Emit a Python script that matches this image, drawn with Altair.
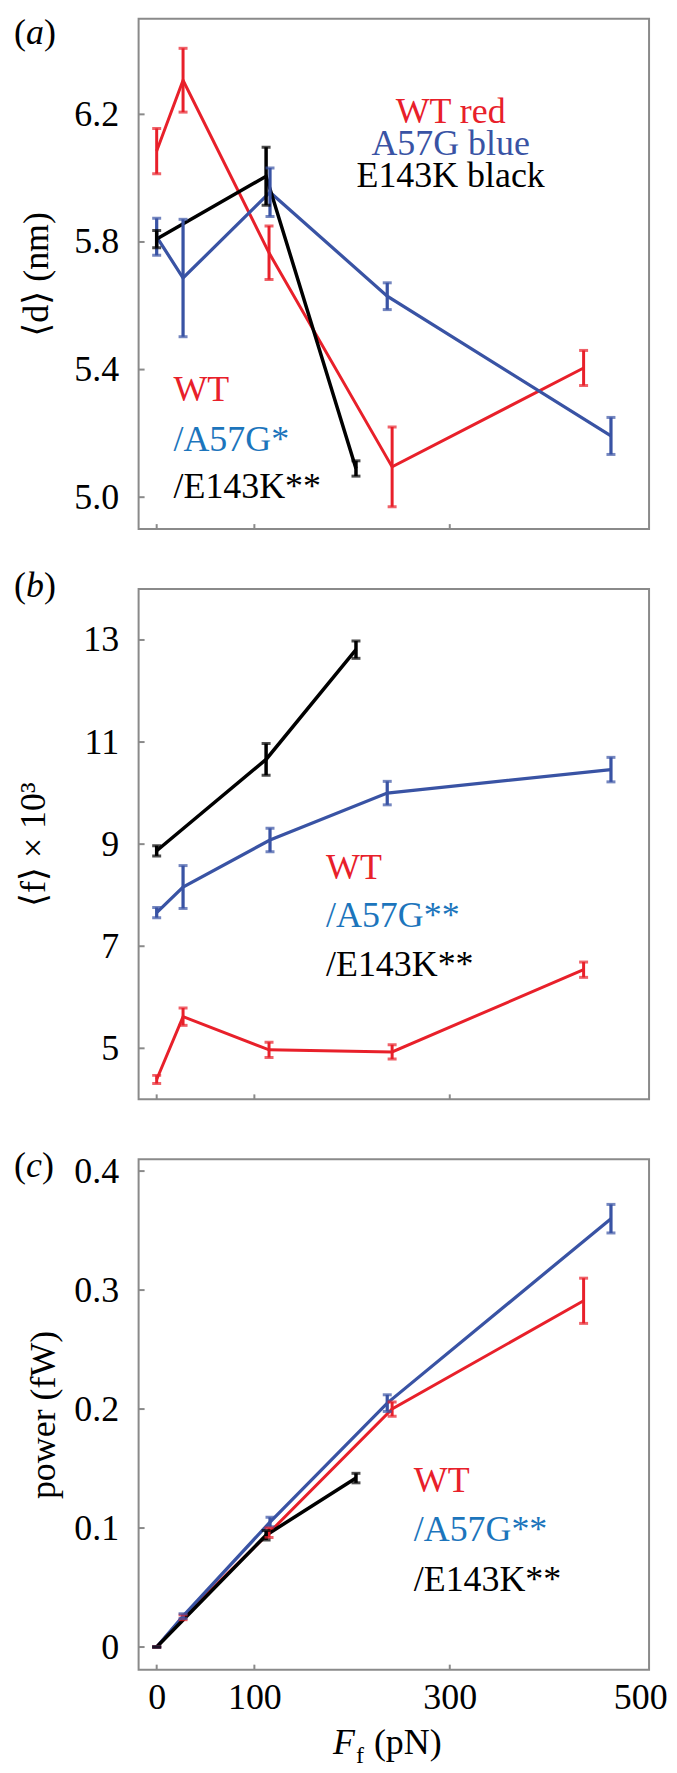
import altair as alt
import pandas as pd

SERIES = ["WT", "A57G", "E143K"]

# x positions, frictional force F_f (pN)
x_wt = [0, 27, 115, 241, 437]
x_a57g = [0, 27, 116, 236, 465]
x_e143k = [0, 112, 204]

# (a) <d> (nm)
d_wt = [6.085, 6.307, 5.766, 5.095, 5.405]
d_wt_err = [0.071, 0.100, 0.084, 0.125, 0.055]
d_a57g = [5.816, 5.687, 5.956, 5.630, 5.192]
d_a57g_err = [0.058, 0.184, 0.076, 0.042, 0.058]
d_e143k = [5.809, 6.006, 5.090]
d_e143k_err = [0.027, 0.091, 0.024]

# (b) <f> x 10^3
f_wt = [4.39, 5.62, 4.97, 4.93, 6.54]
f_wt_err = [0.08, 0.17, 0.15, 0.14, 0.15]
f_a57g = [7.66, 8.16, 9.08, 10.00, 10.46]
f_a57g_err = [0.10, 0.42, 0.23, 0.23, 0.24]
f_e143k = [8.87, 10.66, 12.81]
f_e143k_err = [0.10, 0.31, 0.17]

# (c) power (fW)
p_wt = [0.0, 0.025, 0.096, 0.200, 0.291]
p_wt_err = [0.0, 0.002, 0.004, 0.006, 0.019]
p_a57g = [0.0, 0.026, 0.105, 0.205, 0.360]
p_a57g_err = [0.0, 0.002, 0.004, 0.007, 0.012]
p_e143k = [0.0, 0.094, 0.142]
p_e143k_err = [0.0, 0.004, 0.004]

x_ticks = [0, 100, 300]
x_labels = [0, 100, 300, 500]
d_ticks = [5.0, 5.4, 5.8, 6.2]
f_ticks = [5, 7, 9, 11, 13]
p_ticks = [0.0, 0.1, 0.2, 0.3, 0.4]

RED = "#e8202a"
BLUE = "#3953a4"
LBLUE = "#1c75bc"
BLACK = "#000000"
FRAME = "#8a8a8a"
FONT = "Liberation Serif, Times New Roman, Tinos, DejaVu Serif, serif"
FS = 36
W = 512
H = 512
XDOM = [-18.5, 504]


def make_df(groups):
    rows = []
    for s, xs, ys, es in groups:
        for x, y, e in zip(xs, ys, es):
            rows.append({"series": s, "x": x, "y": y, "lo": y - e, "hi": y + e})
    return pd.DataFrame(rows)


def txt(text, x, y, color=BLACK, size=FS, align="left", baseline="alphabetic", style="normal"):
    return alt.Chart(pd.DataFrame({"t": [text]})).mark_text(
        font=FONT, fontSize=size, color=color, align=align, baseline=baseline, fontStyle=style
    ).encode(text="t:N", x=alt.value(x), y=alt.value(y))


def plabel(letter, ymid, w):
    return [
        txt("(", -125, ymid, baseline="middle"),
        txt(letter, -113, ymid, baseline="middle", style="italic"),
        txt(")", -113 + w, ymid, baseline="middle"),
    ]


def panel(df, ydom, yticks, ytitle, title_x, label_expr, extra, show_x):
    xs = alt.Scale(domain=XDOM, nice=False, zero=False)
    ys = alt.Scale(domain=ydom, nice=False, zero=False)
    color = alt.Color("series:N", scale=alt.Scale(domain=SERIES, range=[RED, BLUE, BLACK]), legend=None)
    sw = alt.StrokeWidth("series:N", scale=alt.Scale(domain=SERIES, range=[3, 3.5, 2.3]), legend=None)
    if show_x:
        xaxis = alt.Axis(values=x_labels, ticks=False, tickSize=0, domain=False, grid=False, title=None,
                         labelFont=FONT, labelFontSize=FS, labelColor=BLACK, labelPadding=11,
                         labelFlush=5, labelFlushOffset=22)
    else:
        xaxis = None
    yaxis = alt.Axis(values=yticks, ticks=False, tickSize=0, domain=False, grid=False,
                     labelFont=FONT, labelFontSize=FS, labelColor=BLACK, labelPadding=20,
                     labelExpr=label_expr,
                     title=ytitle, titleFont=FONT, titleFontSize=FS, titleFontWeight="normal",
                     titleColor=BLACK, titleX=title_x, titleY=H / 2, titleAngle=270,
                     titleAlign="center", titleBaseline="middle")
    X = lambda f: alt.X(f, scale=xs, axis=xaxis)
    Y = lambda f: alt.Y(f, scale=ys, axis=yaxis)
    base = alt.Chart(df)
    line = base.mark_line().encode(x=X("x:Q"), y=Y("y:Q"), color=color, strokeWidth=sw, detail="series:N")
    bars = base.mark_rule().encode(x=X("x:Q"), y=Y("lo:Q"), y2="hi:Q", color=color, strokeWidth=sw)
    cap_lo = base.mark_tick(orient="horizontal", size=9, thickness=3).encode(x=X("x:Q"), y=Y("lo:Q"), color=color)
    cap_hi = base.mark_tick(orient="horizontal", size=9, thickness=3).encode(x=X("x:Q"), y=Y("hi:Q"), color=color)
    ytk = alt.Chart(pd.DataFrame({"v": yticks})).mark_rule(color=FRAME, strokeWidth=2).encode(
        y=Y("v:Q"), x=alt.value(0), x2=alt.value(6))
    xtk = alt.Chart(pd.DataFrame({"v": x_ticks})).mark_rule(color=FRAME, strokeWidth=2).encode(
        x=X("v:Q"), y=alt.value(H), y2=alt.value(H - 5))
    return alt.layer(line, bars, cap_lo, cap_hi, ytk, xtk, *extra).properties(width=W, height=H)


df_a = make_df([("WT", x_wt, d_wt, d_wt_err), ("A57G", x_a57g, d_a57g, d_a57g_err),
                ("E143K", x_e143k, d_e143k, d_e143k_err)])
df_b = make_df([("WT", x_wt, f_wt, f_wt_err), ("A57G", x_a57g, f_a57g, f_a57g_err),
                ("E143K", x_e143k, f_e143k, f_e143k_err)])
df_c = make_df([("WT", x_wt, p_wt, p_wt_err), ("A57G", x_a57g, p_a57g, p_a57g_err),
                ("E143K", x_e143k, p_e143k, p_e143k_err)])

extra_a = plabel("a", 14, 18) + [
    txt("WT red", 313, 105, RED, align="center"),
    txt("A57G blue", 313, 137, BLUE, align="center"),
    txt("E143K black", 313, 169, BLACK, align="center"),
    txt("WT", 35, 384, RED),
    txt("/A57G*", 35, 434, LBLUE),
    txt("/E143K**", 35, 481, BLACK),
]
extra_b = plabel("b", -3, 18) + [
    txt("WT", 188, 291, RED),
    txt("/A57G**", 188, 339, LBLUE),
    txt("/E143K**", 188, 388, BLACK),
]
extra_c = plabel("c", 7, 16) + [
    txt("WT", 276, 334, RED),
    txt("/A57G**", 276, 383, LBLUE),
    txt("/E143K**", 276, 433, BLACK),
    txt("F", 195, 597, style="italic"),
    txt("f", 218, 606, size=24),
    txt("(pN)", 236, 597),
]

pa = panel(df_a, [4.9, 6.5], d_ticks, "\u27e8d\u27e9 (nm)", -102, "format(datum.value, '.1f')", extra_a, False)
pb = panel(df_b, [4, 14], f_ticks, "\u27e8f\u27e9 \u00d7 10\u00b3", -105, "format(datum.value, 'd')", extra_b, False)
pc = panel(df_c, [-0.019, 0.41], p_ticks, "power (fW)", -95,
           "datum.value == 0 ? '0' : format(datum.value, '.1f')", extra_c, True)

chart = alt.vconcat(pa, pb, pc, spacing=60, bounds="flush").properties(
    padding={"left": 5, "top": 3, "right": 0, "bottom": 2}
).configure_view(stroke=FRAME, strokeWidth=2)

chart.save("out.html", embed_options={"renderer": "svg", "actions": False})
